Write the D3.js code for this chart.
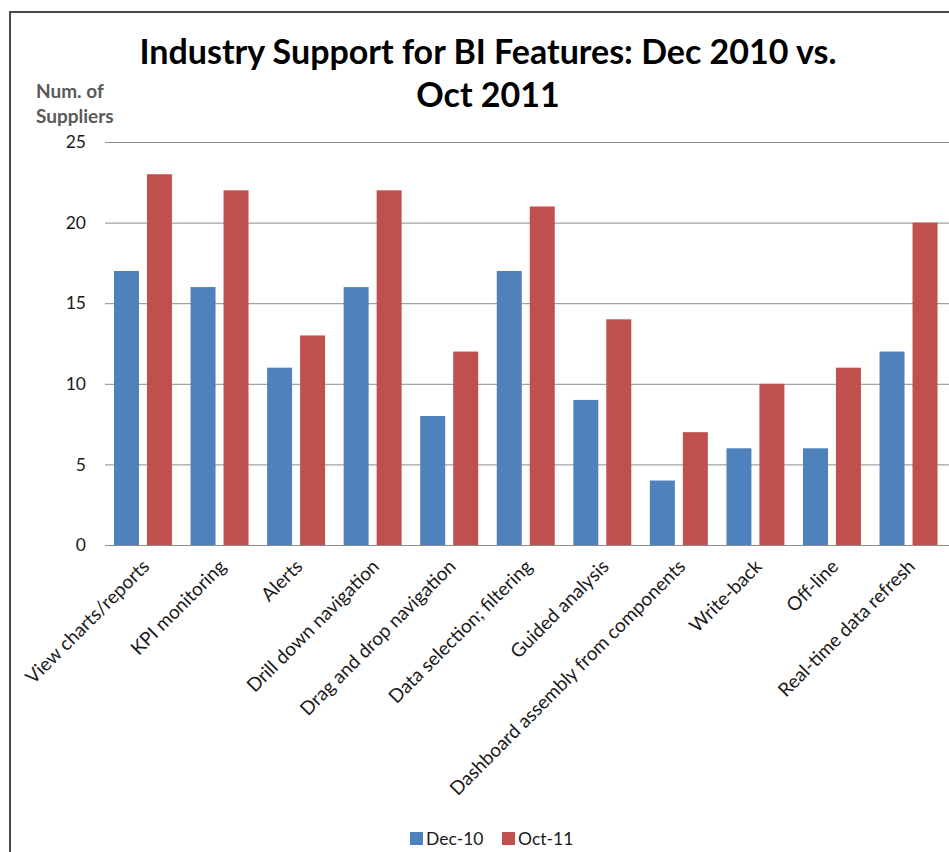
<!DOCTYPE html>
<html>
<head>
<meta charset="utf-8">
<script src="https://cdn.jsdelivr.net/npm/d3@7"></script>
<style>
  html, body { margin: 0; padding: 0; background: #fff; }
  svg { display: block; font-family: Lato, "Open Sans", sans-serif; }
</style>
</head>
<body>
<svg id="chart" width="949" height="852"></svg>
<script>
// Number of BI suppliers supporting each dashboard feature
const categories = [
  "View charts/reports", "KPI monitoring", "Alerts", "Drill down navigation",
  "Drag and drop navigation", "Data selection; filtering", "Guided analysis",
  "Dashboard assembly from components", "Write-back", "Off-line",
  "Real-time data refresh"
];
const seriesNames = ["Dec-10", "Oct-11"];
const dec10 = [17, 16, 11, 16, 8, 17, 9, 4, 6, 6, 12];
const oct11 = [23, 22, 13, 22, 12, 21, 14, 7, 10, 11, 20];
const yTicks = [0, 5, 10, 15, 20, 25];
const colors = ["#4F81BD", "#C0504D"];

const svg = d3.select("#chart");

// frame around the chart area
svg.append("path")
  .attr("d", "M10,852 V12 H949")
  .attr("fill", "none")
  .attr("stroke", "#4a4a4a")
  .attr("stroke-width", 2);

const x = d3.scaleBand().domain(categories).range([104.7, 946.8]);
const xs = d3.scaleBand().domain(seriesNames)
  .range([9.3, x.bandwidth() - 9.3]).paddingInner(0.2424);
const y = d3.scaleLinear().domain([0, 25]).range([545, 142]);

// horizontal gridlines + value labels
const yAxis = d3.axisLeft(y).tickValues(yTicks).tickSize(-(949 - 105)).tickPadding(19);
const gy = svg.append("g").attr("transform", "translate(105,0)").call(yAxis);
gy.select(".domain").remove();
gy.selectAll(".tick line").attr("stroke", "#8c8c8c").attr("stroke-width", 1);
gy.selectAll(".tick text")
  .attr("fill", "#1a1a1a").attr("font-size", 17.5).attr("font-family", "Lato, sans-serif");

// bars
const rows = categories.map((c, i) => ({ c, vals: [dec10[i], oct11[i]] }));
const groups = svg.append("g").selectAll("g").data(rows).join("g")
  .attr("transform", d => `translate(${x(d.c)},0)`);
groups.selectAll("rect")
  .data(d => d.vals.map((v, k) => ({ k, v })))
  .join("rect")
  .attr("x", d => xs(seriesNames[d.k]))
  .attr("width", xs.bandwidth())
  .attr("y", d => y(d.v))
  .attr("height", d => y(0) - y(d.v))
  .attr("fill", d => colors[d.k]);

// category labels, rotated
svg.append("g").selectAll("text").data(categories).join("text")
  .attr("transform", d => `translate(${x(d) + x.bandwidth() / 2 + 3},563) rotate(-45)`)
  .attr("text-anchor", "end")
  .attr("dy", "0.35em")
  .attr("font-size", 19)
  .attr("fill", "#1a1a1a")
  .text(d => d);

// title
const title = svg.append("text")
  .attr("text-anchor", "middle")
  .attr("font-weight", "bold")
  .attr("font-size", 34)
  .attr("fill", "#000");
title.append("tspan").attr("x", 488).attr("y", 64).text("Industry Support for BI Features: Dec 2010 vs.");
title.append("tspan").attr("x", 488).attr("y", 107).text("Oct 2011");

// axis title
const yt = svg.append("text")
  .attr("font-weight", "bold")
  .attr("font-size", 19)
  .attr("fill", "#595959");
yt.append("tspan").attr("x", 36).attr("y", 98).text("Num. of");
yt.append("tspan").attr("x", 36).attr("y", 123).text("Suppliers");

// legend
const legend = svg.append("g");
const lx = [410, 502];
seriesNames.forEach((s, k) => {
  legend.append("rect")
    .attr("x", lx[k]).attr("y", 832).attr("width", 13).attr("height", 13)
    .attr("fill", colors[k]);
  legend.append("text")
    .attr("x", lx[k] + 16).attr("y", 845)
    .attr("font-size", 17.5).attr("fill", "#1a1a1a")
    .text(s);
});
</script>
</body>
</html>
